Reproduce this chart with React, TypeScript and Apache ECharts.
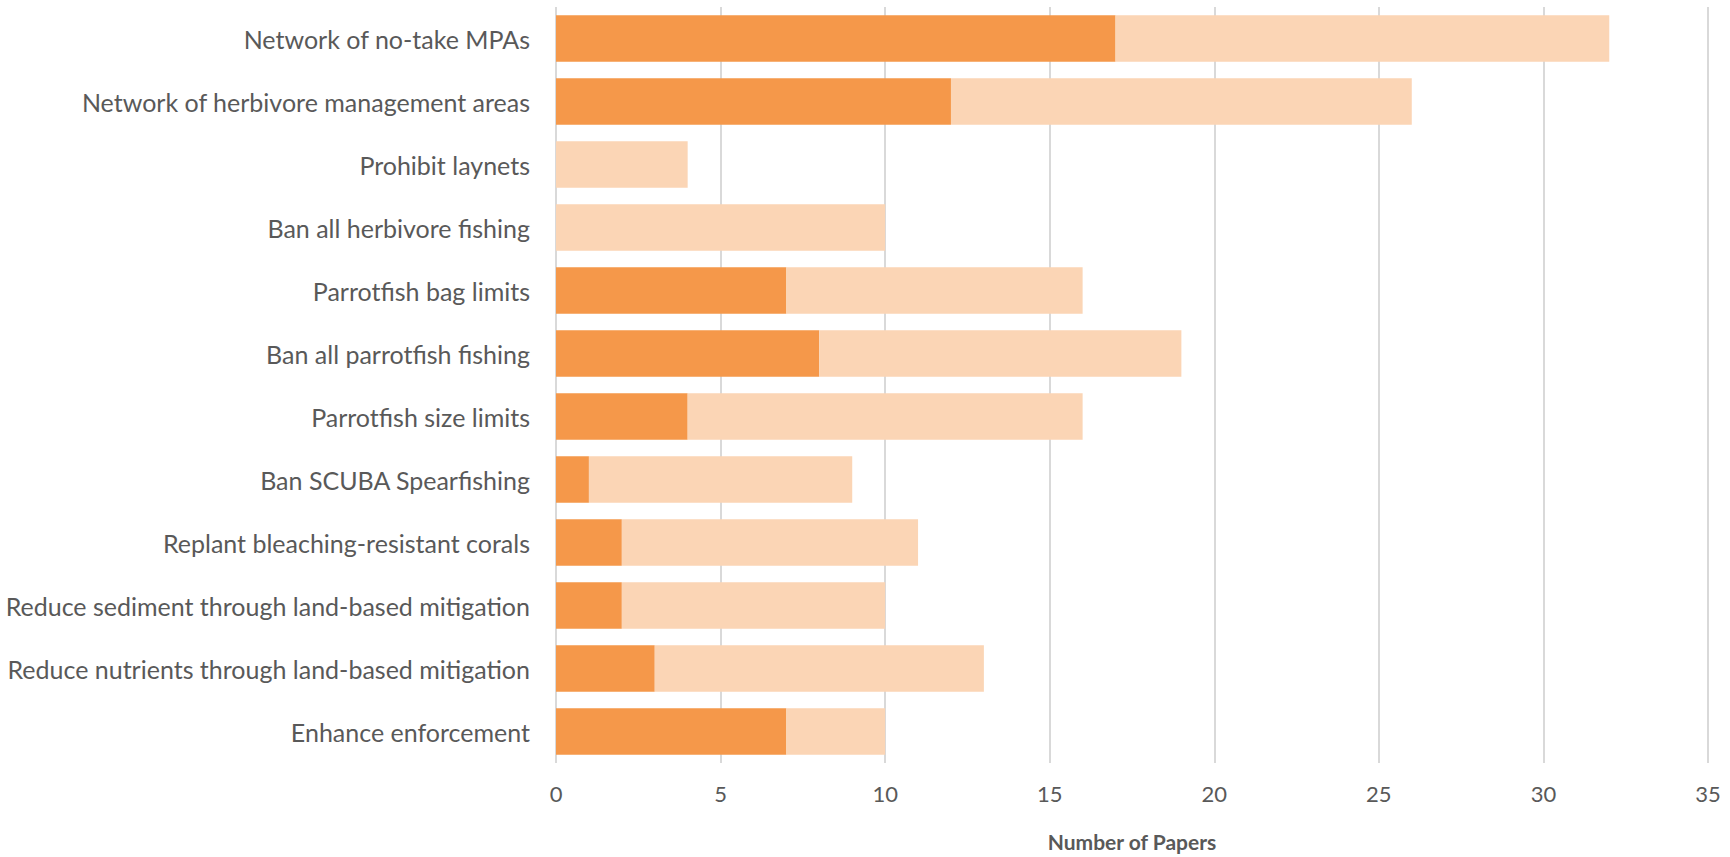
import React, { useEffect, useRef } from "react";
import * as echarts from "echarts";

const categories = [
  "Network of no-take MPAs",
  "Network of herbivore management areas",
  "Prohibit laynets",
  "Ban all herbivore fishing",
  "Parrotfish bag limits",
  "Ban all parrotfish fishing",
  "Parrotfish size limits",
  "Ban SCUBA Spearfishing",
  "Replant bleaching-resistant corals",
  "Reduce sediment through land-based mitigation",
  "Reduce nutrients through land-based mitigation",
  "Enhance enforcement",
];

// dark segment (first part of each stacked bar)
const darkValues = [17, 12, 0, 0, 7, 8, 4, 1, 2, 2, 3, 7];
// light segment (remaining part of each stacked bar)
const lightValues = [15, 14, 4, 10, 9, 11, 12, 8, 9, 8, 10, 3];

const xTicks = { min: 0, max: 35, interval: 5 };
const xAxisName = "Number of Papers";

export default function App() {
  const ref = useRef<HTMLDivElement>(null);
  useEffect(() => {
    if (!ref.current) return;
    const chart = echarts.init(ref.current, null, { renderer: "svg" });
    const font = "Lato, 'Open Sans', sans-serif";
    chart.setOption({
      animation: false,
      backgroundColor: "#ffffff",
      grid: { left: 556, right: 22, top: 7, bottom: 86, containLabel: false },
      xAxis: {
        type: "value",
        min: xTicks.min,
        max: xTicks.max,
        interval: xTicks.interval,
        name: xAxisName,
        nameLocation: "middle",
        nameGap: 68,
        nameTextStyle: { fontFamily: font, fontSize: 21, fontWeight: "bold", color: "#595959" },
        axisLine: { show: false },
        axisTick: { show: false },
        axisLabel: { fontFamily: font, fontSize: 22, color: "#595959", margin: 19 },
        splitLine: { show: true, lineStyle: { color: "#d9d9d9", width: 2 } },
      },
      yAxis: {
        type: "category",
        data: categories,
        inverse: true,
        axisLine: { show: false },
        axisTick: { show: false },
        axisLabel: { fontFamily: font, fontSize: 25, color: "#595959", margin: 26 },
        splitLine: { show: false },
      },
      series: [
        {
          type: "bar",
          stack: "total",
          data: darkValues,
          barCategoryGap: "26%",
          itemStyle: { color: "#f5984a" },
        },
        {
          type: "bar",
          stack: "total",
          data: lightValues,
          barCategoryGap: "26%",
          itemStyle: { color: "#fbd5b5" },
        },
      ],
    });
    return () => chart.dispose();
  }, []);
  return (
    <div
      ref={ref}
      style={{ position: "fixed", left: 0, top: 0, width: 1730, height: 857 }}
    />
  );
}
